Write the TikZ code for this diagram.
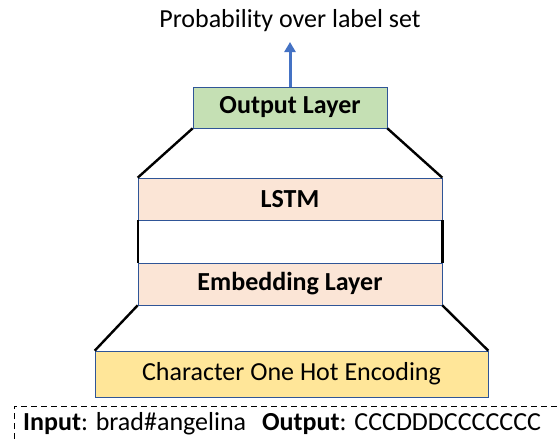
\documentclass[tikz,border=0pt]{standalone}
\usepackage{fontspec}
\setmainfont{Carlito}
\usetikzlibrary{arrows.meta}

\definecolor{outgreen}{HTML}{C5E0B4}
\definecolor{layerpink}{HTML}{FBE5D6}
\definecolor{inyellow}{HTML}{FFE699}
\definecolor{edgeblue}{HTML}{2F5597}
\definecolor{arrowblue}{HTML}{4472C4}

\tikzset{
    layer/.style={draw=edgeblue, line width=0.6pt, inner sep=0pt, font=\fontsize{26}{30}\selectfont},
    funnel/.style={line width=2.4pt, black}
}

\begin{document}
\begin{tikzpicture}[x=1pt, y=-1pt]
        \useasboundingbox (0,0) rectangle (558,439);

        \node (title) at (290,21) {\fontsize{26}{30}\selectfont Probability over label set};
        \node[layer, fill=outgreen, minimum width=194pt, minimum height=41pt] (out) at (290,107.5) {\textbf{Output Layer}};
        \node[layer, fill=layerpink, minimum width=304pt, minimum height=42pt] (lstm) at (290,199) {\textbf{LSTM}};
        \node[layer, fill=layerpink, minimum width=304pt, minimum height=42pt] (emb) at (290,284) {\textbf{Embedding Layer}};
        \node[layer, fill=inyellow, minimum width=393pt, minimum height=46pt] (enc) at (291.5,374) {Character One Hot Encoding};
        \coordinate (tip) at (290,42);

        \draw[-{Triangle[length=10pt,width=11pt]}, line width=3pt, arrowblue] (out.north) -- (tip);

        \draw[funnel] (out.south west) -- (lstm.north west);
        \draw[funnel] (out.south east) -- (lstm.north east);
        \draw[funnel] (lstm.south west) -- (emb.north west);
        \draw[funnel] (lstm.south east) -- (emb.north east);
        \draw[funnel] (emb.south west) -- (enc.north west);
        \draw[funnel] (emb.south east) -- (enc.north east);

        \draw[dash pattern=on 6pt off 4pt, line width=0.8pt] (14,439) -- (14,406) -- (558,406);
        \node[anchor=west, inner sep=0pt] (io) at (23,424) {\fontsize{26}{30}\selectfont\textbf{Input}: brad\#angelina\hspace{16pt}\textbf{Output}: CCCDDDCCCCCCC};
    \end{tikzpicture}
\end{document}
